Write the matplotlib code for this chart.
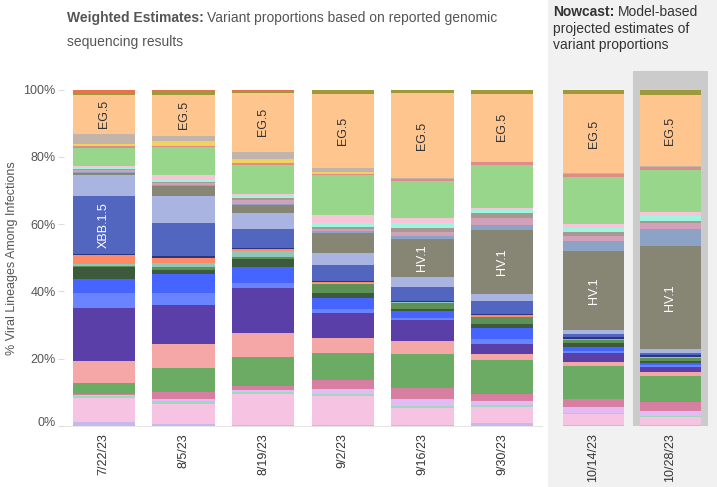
import matplotlib
matplotlib.use("Agg")
import matplotlib.pyplot as plt
from matplotlib.patches import Rectangle
from matplotlib.transforms import ScaledTranslation
import numpy as np

plt.rcParams['font.family'] = ['Liberation Sans', 'DejaVu Sans']

# ---------------- data ----------------
dates_weighted = ["7/22/23", "8/5/23", "8/19/23", "9/2/23", "9/16/23", "9/30/23"]
dates_nowcast = ["10/14/23", "10/28/23"]

lineages = ["XBB", "XBB.1.16", "XBB.1.16.1", "XBB.1.16.15", "XBB.1.16.6",
            "FL.1.5.1", "XBB.2.3", "XBB.1.9.1", "XBB.1.5.72", "XBB.1.5.70",
            "XBB.1.9.2", "EG.6.1", "FD.1.1", "XBB.1.5.10", "XBB.1.5.59",
            "XBB.1.5", "XBB.1.42.2", "HV.1", "JD.1.1", "GK.1.1",
            "GE.1", "HK.3", "JF.1", "EU.1.1", "XBB.2.3.8",
            "FE.1.1", "CH.1.1", "EG.5", "BA.2.86", "HF.1"]

colors = ["#c4b9ec", "#f6c3e3", "#9ed9bf", "#e2bbf5", "#d77fa0",
          "#6bab63", "#f5a7a7", "#5b3fa9", "#6a83ff", "#4664ff",
          "#3e5a3c", "#5e9158", "#8fc7b9", "#ff8a66", "#2b3681",
          "#5266c0", "#a9b4e0", "#878574", "#8ca3c5", "#d2a0b8",
          "#a7998f", "#9ff6e0", "#f8c5d8", "#98d68c", "#e08a8a",
          "#f2d15c", "#c2b3ab", "#ffc58e", "#9c9a3a", "#e8734a"]

w0722 = [1.2, 7.1, 0.5, 0.3, 0.4, 3.3, 6.5, 15.8, 4.2, 4.2, 3.6, 0.3, 0.7, 2.7, 0.2,
         17.3, 6.2, 0.4, 0.3, 0.6, 0.3, 0.4, 0.6, 5.4, 0.4, 0.8, 3.0, 11.6, 0.5, 1.0]
w0805 = [0.5, 6.0, 1.0, 0.5, 2.0, 7.1, 7.4, 11.6, 3.3, 5.7, 1.2, 0.9, 1.2, 1.5, 0.6,
         9.8, 8.0, 3.0, 0.3, 0.6, 0.3, 0.6, 1.5, 8.3, 0.4, 1.5, 1.5, 12.2, 1.0, 0.5]
w0819 = [0.4, 9.2, 0.5, 0.5, 1.2, 8.6, 7.4, 13.4, 1.2, 4.8, 2.4, 0.6, 1.8, 0.6, 0.3,
         5.7, 4.8, 2.4, 0.3, 1.2, 0.6, 0.6, 0.6, 8.6, 0.4, 1.4, 2.1, 17.6, 0.5, 0.4]
w0902 = [0.3, 8.9, 0.6, 1.5, 2.7, 8.0, 4.5, 7.7, 1.2, 3.3, 1.5, 2.7, 0.3, 0.3, 0.2,
         4.8, 3.6, 6.3, 0.4, 0.8, 0.6, 1.2, 2.4, 11.9, 0.5, 0.4, 1.2, 22.3, 1.2, 0.3]
w0916 = [0.3, 5.2, 0.6, 2.1, 3.3, 10.4, 3.9, 6.3, 0.6, 2.1, 0.6, 1.8, 0.2, 0.3, 0.3,
         4.2, 3.0, 11.3, 0.9, 1.2, 1.5, 1.5, 1.5, 11.0, 0.6, 0.1, 0.3, 25.6, 0.9, 0.3]
w0930 = [0.9, 4.8, 0.5, 1.2, 2.4, 10.1, 1.8, 3.0, 1.5, 3.3, 1.2, 2.1, 0.2, 0.5, 0.3,
         3.9, 2.1, 19.3, 1.5, 2.1, 1.5, 0.9, 0.6, 13.1, 0.9, 0.1, 0.2, 20.2, 1.0, 0.3]
n1014 = [0.3, 3.3, 0.4, 1.8, 2.4, 9.8, 1.2, 3.0, 0.6, 1.0, 1.2, 0.9, 0.2, 0.2, 0.5,
         1.0, 1.2, 23.8, 3.0, 1.5, 1.2, 1.2, 1.5, 14.0, 0.9, 0.1, 0.2, 23.8, 1.2, 0.3]
n1028 = [0.3, 2.4, 0.3, 1.5, 2.7, 8.0, 1.2, 1.5, 0.5, 0.8, 0.6, 0.9, 0.2, 0.2, 0.4,
         0.6, 1.2, 31.5, 5.1, 1.8, 0.6, 1.5, 1.2, 12.8, 0.9, 0.1, 0.2, 21.4, 1.5, 0.3]

weighted = [w0722, w0805, w0819, w0902, w0916, w0930]
nowcast = [n1014, n1028]

yticks = [0, 20, 40, 60, 80, 100]
labelled = {"EG.5": "#333333", "XBB.1.5": "white", "HV.1": "white"}

# ---------------- figure ----------------
W, H = 717, 487
fig = plt.figure(figsize=(W / 100, H / 100), dpi=100)

# nowcast panel background
fig.patches.append(Rectangle((548 / W, 0), (W - 548) / W, 1, transform=fig.transFigure,
                             facecolor="#f1f1f1", edgecolor="none", zorder=-5))

y_bot = 1 - 426 / H
y_h = (426 - 89.5) / H
ax1 = fig.add_axes([64 / W, y_bot, (542 - 64) / W, y_h])
ax2 = fig.add_axes([555 / W, y_bot, (709 - 555) / W, y_h])
ax2.patch.set_alpha(0)


def draw(ax, data, dates, width):
    for i, vals in enumerate(data):
        v = np.array(vals, dtype=float)
        v = v / v.sum() * 100
        bottom = 0.0
        for j, val in enumerate(v):
            ax.bar(i, val, bottom=bottom, width=width, color=colors[j],
                   edgecolor="none", linewidth=0, zorder=3)
            name = lineages[j]
            if name in labelled and val >= 10.5:
                ax.text(i, bottom + val / 2, name, rotation=90, ha="center", va="center",
                        color=labelled[name], fontsize=9, zorder=4)
            bottom += val
    ax.set_xlim(-0.5, len(dates) - 0.5)
    ax.set_ylim(0, 100)
    ax.set_xticks(range(len(dates)))
    ax.set_xticklabels(dates, rotation=90, fontsize=9, color="#333333")
    for s in ["top", "right", "left"]:
        ax.spines[s].set_visible(False)
    ax.spines["bottom"].set_color("#e6e6e6")
    ax.tick_params(axis="x", length=0, pad=5)


draw(ax1, weighted, dates_weighted, 0.78)
draw(ax2, nowcast, dates_nowcast, 0.79)
ax2.spines["bottom"].set_visible(False)

# highlight latest nowcast week
ax2.add_patch(Rectangle((0.515, 0), 0.97, 105.5, facecolor="#cbcbcb", edgecolor="none",
                        clip_on=False, zorder=1))

ax1.set_yticks(yticks)
ax1.set_yticklabels([f"{t}%" for t in yticks], fontsize=9, color="#555555")
ax1.tick_params(axis="y", length=4, color="#dddddd", pad=2)
# the 0% label sits slightly raised in the original
lab0 = ax1.get_yticklabels()[0]
lab0.set_transform(lab0.get_transform() + ScaledTranslation(0, 5 / 100, fig.dpi_scale_trans))
ax1.set_ylabel("% Viral Lineages Among Infections", fontsize=9, color="#555555", labelpad=4)
ax2.set_yticks([])


# titles with a bold lead-in
def bold_lead(x, y, bold, rest, color):
    t = fig.text(x / W, 1 - y / H, bold, fontsize=10, fontweight="bold", color=color,
                 va="center", ha="left")
    fig.canvas.draw()
    bb = t.get_window_extent()
    fig.text((bb.x1 + 3.5) / W, 1 - y / H, rest, fontsize=10, color=color,
             va="center", ha="left")


bold_lead(67, 18, "Weighted Estimates:", "Variant proportions based on reported genomic", "#555555")
fig.text(67 / W, 1 - 42 / H, "sequencing results", fontsize=10, color="#555555",
         va="center", ha="left")
bold_lead(553, 12, "Nowcast:", "Model-based", "#333333")
fig.text(553 / W, 1 - 29 / H, "projected estimates of", fontsize=10, color="#333333",
         va="center", ha="left")
fig.text(553 / W, 1 - 45 / H, "variant proportions", fontsize=10, color="#333333",
         va="center", ha="left")

fig.savefig("out.png", dpi=100)
